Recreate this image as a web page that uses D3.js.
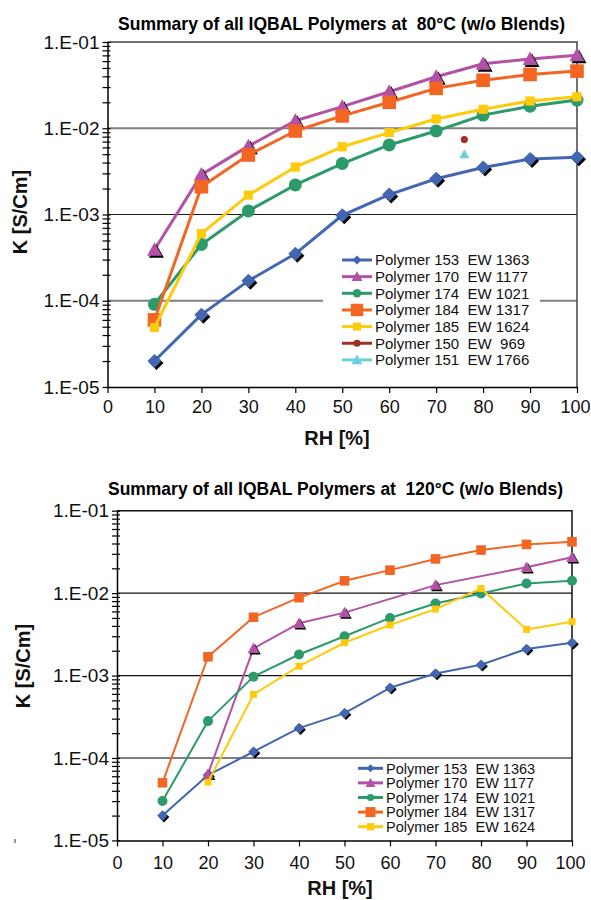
<!DOCTYPE html>
<html>
<head>
<meta charset="utf-8">
<script src="https://cdn.jsdelivr.net/npm/d3@7/dist/d3.min.js"></script>
<style>
body { margin: 0; background: #fff; }
svg { display: block; font-family: Arial, "Liberation Sans", sans-serif; }
</style>
</head>
<body>
<svg id="chart" width="591" height="900"></svg>
<script>
// x values (RH %) and axis labels
var rhValues = [10, 20, 30, 40, 50, 60, 70, 80, 90, 100];
var xTicks = [0, 10, 20, 30, 40, 50, 60, 70, 80, 90, 100];
var yDecadeLabels = ["1.E-05", "1.E-04", "1.E-03", "1.E-02", "1.E-01"];

var legendNames = [
    "Polymer 153  EW 1363",
    "Polymer 170  EW 1177",
    "Polymer 174  EW 1021",
    "Polymer 184  EW 1317",
    "Polymer 185  EW 1624",
    "Polymer 150  EW  969",
    "Polymer 151  EW 1766"
];

// 80 C conductivity, S/cm
var p153_80 = [2.0e-5, 6.9e-5, 1.7e-4, 3.5e-4, 9.8e-4, 1.7e-3, 2.6e-3, 3.5e-3, 4.4e-3, 4.6e-3];
var p170_80 = [3.9e-4, 2.9e-3, 6.2e-3, 1.22e-2, 1.78e-2, 2.65e-2, 3.95e-2, 5.6e-2, 6.35e-2, 7.0e-2];
var p174_80 = [9.1e-5, 4.5e-4, 1.1e-3, 2.2e-3, 3.9e-3, 6.4e-3, 9.3e-3, 1.42e-2, 1.8e-2, 2.12e-2];
var p184_80 = [6.0e-5, 2.1e-3, 4.9e-3, 9.3e-3, 1.39e-2, 2.0e-2, 2.9e-2, 3.6e-2, 4.2e-2, 4.6e-2];
var p185_80 = [4.9e-5, 6.0e-4, 1.68e-3, 3.55e-3, 6.1e-3, 8.9e-3, 1.28e-2, 1.66e-2, 2.07e-2, 2.32e-2];
var rh150_80 = [76];
var p150_80 = [7.4e-3];
var rh151_80 = [76];
var p151_80 = [5.0e-3];

// 120 C conductivity, S/cm (null = not measured)
var p153_120 = [2.0e-5, 6.2e-5, 1.19e-4, 2.3e-4, 3.5e-4, 7.1e-4, 1.06e-3, 1.35e-3, 2.1e-3, 2.5e-3];
var p170_120 = [null, 6.4e-5, 2.14e-3, 4.3e-3, 5.8e-3, null, 1.25e-2, null, 2.06e-2, 2.72e-2];
var p174_120 = [3.0e-5, 2.8e-4, 9.7e-4, 1.8e-3, 3.0e-3, 5.0e-3, 7.5e-3, 9.9e-3, 1.31e-2, 1.41e-2];
var p184_120 = [5.0e-5, 1.69e-3, 5.1e-3, 8.8e-3, 1.41e-2, 1.9e-2, 2.6e-2, 3.33e-2, 3.9e-2, 4.2e-2];
var p185_120 = [null, 5.1e-5, 5.9e-4, 1.3e-3, 2.5e-3, 4.1e-3, 6.4e-3, 1.14e-2, 3.63e-3, 4.5e-3];

var colBlue = "#4266b2";
var colPurple = "#b152a7";
var colGreen = "#2c9a6a";
var colOrange = "#f26522";
var colYellow = "#fdca0c";
var colRed = "#a0301f";
var colCyan = "#6fcfe0";

function markerPath(type, s)
{
    if (type == "diamond")
        return "M0," + (-s) + "L" + s + ",0L0," + s + "L" + (-s) + ",0Z";
    if (type == "square")
        return "M" + (-s) + "," + (-s) + "H" + s + "V" + s + "H" + (-s) + "Z";
    if (type == "triangle")
        return "M0," + (-s) + "L" + s + "," + (s * 0.8) + "L" + (-s) + "," + (s * 0.8) + "Z";
    // circle
    return "M" + s + ",0A" + s + "," + s + " 0 1,1 " + (-s) + ",0A" + s + "," + s + " 0 1,1 " + s + ",0Z";
}

function drawChart(svg, opt)
{
    var g = svg.append("g");
    var x = d3.scaleLinear().domain([0, 100]).range([opt.left, opt.right]);
    var y = d3.scaleLog().domain([1e-5, 1e-1]).range([opt.bottom, opt.top]);

    // horizontal grid lines at 1E-04, 1E-03, 1E-02
    var gridVals = [1e-4, 1e-3, 1e-2];
    g.selectAll(".grid").data(gridVals).join("line")
        .attr("x1", opt.left).attr("x2", opt.right)
        .attr("y1", function(d){ return y(d); })
        .attr("y2", function(d){ return y(d); })
        .attr("stroke", function(d, i){ return opt.gridColors[i]; })
        .attr("stroke-width", function(d, i){ return opt.gridWidths[i]; });

    // top and right frame
    g.append("path")
        .attr("d", "M" + opt.left + "," + y(1e-1) + "H" + x(100) + "V" + y(1e-5))
        .attr("fill", "none")
        .attr("stroke", opt.frameColor)
        .attr("stroke-width", 1.5);

    // y axis with log minor ticks
    var yAxis = d3.axisLeft(y)
        .tickValues(y.ticks())
        .tickSize(5).tickSizeOuter(0).tickPadding(3)
        .tickFormat(function(d){
            var l = Math.log10(d);
            if (Math.abs(l - Math.round(l)) < 1e-6) return yDecadeLabels[Math.round(l) + 5];
            return "";
        });
    var ya = g.append("g").attr("transform", "translate(" + opt.left + ",0)").call(yAxis);
    ya.selectAll(".tick line").attr("x1", 3).attr("stroke", "#000").attr("stroke-width", 1.2);
    ya.select(".domain").attr("stroke", "#000").attr("stroke-width", 1.5);
    ya.selectAll("text").attr("font-size", 19).attr("fill", "#111").attr("font-family", "Arial, 'Liberation Sans', sans-serif");

    // x axis
    var xAxis = d3.axisBottom(x).tickValues(xTicks).tickSize(6).tickSizeOuter(0).tickPadding(opt.xPad);
    var xa = g.append("g").attr("transform", "translate(0," + opt.bottom + ")").call(xAxis);
    xa.selectAll(".tick line").attr("stroke", "#000").attr("stroke-width", 1.2);
    xa.select(".domain").attr("stroke", "#000").attr("stroke-width", 1.5);
    xa.selectAll("text").attr("font-size", 18).attr("fill", "#111").attr("font-family", "Arial, 'Liberation Sans', sans-serif");
    // last label sits against the page edge
    xa.selectAll("text").filter(function(d){ return d == 100; }).attr("dx", -2);

    // series lines and markers
    var line = d3.line()
        .x(function(d){ return x(d[0]); })
        .y(function(d){ return y(d[1]); });

    opt.series.forEach(function(s){
        var pts = [];
        for (var i = 0; i < s.rh.length; i++)
        {
            if (s.values[i] != null) pts.push([s.rh[i], s.values[i]]);
        }
        if (pts.length > 1)
        {
            g.append("path").datum(pts)
                .attr("d", line)
                .attr("fill", "none")
                .attr("stroke", s.color)
                .attr("stroke-width", opt.lineWidth)
                .attr("stroke-linejoin", "round");
        }
        if (s.shadow)
        {
            g.selectAll(null).data(pts).join("path")
                .attr("transform", function(d){ return "translate(" + (x(d[0]) + opt.shadowOff) + "," + (y(d[1]) + opt.shadowOff) + ")"; })
                .attr("d", markerPath(s.type, s.size))
                .attr("fill", "#000");
        }
        g.selectAll(null).data(pts).join("path")
            .attr("transform", function(d){ return "translate(" + x(d[0]) + "," + y(d[1]) + ")"; })
            .attr("d", markerPath(s.type, s.size))
            .attr("fill", s.color);
    });

    // legend
    var lg = g.append("g");
    if (opt.legendBox)
    {
        lg.append("rect")
            .attr("x", opt.legendBox[0]).attr("y", opt.legendBox[1])
            .attr("width", opt.legendBox[2]).attr("height", opt.legendBox[3])
            .attr("fill", "#fff");
    }
    opt.series.forEach(function(s, i){
        var ly = opt.legendY + i * opt.legendStep;
        lg.append("line")
            .attr("x1", opt.legendX).attr("x2", opt.legendX + opt.legendLineLen)
            .attr("y1", ly).attr("y2", ly)
            .attr("stroke", s.color).attr("stroke-width", 3);
        lg.append("path")
            .attr("transform", "translate(" + (opt.legendX + opt.legendLineLen / 2) + "," + ly + ")")
            .attr("d", markerPath(s.type, s.legendSize))
            .attr("fill", s.color);
        lg.append("text")
            .attr("x", opt.legendX + opt.legendLineLen + 3)
            .attr("y", ly)
            .attr("dy", "0.36em")
            .attr("font-size", opt.legendFont)
            .attr("fill", "#111")
            .style("white-space", "pre")
            .text(s.name);
    });

    // titles
    g.append("text")
        .attr("x", opt.titleX).attr("y", opt.titleY)
        .attr("text-anchor", "middle")
        .attr("font-family", "'Liberation Sans Narrow', 'Arial Narrow', Arial, sans-serif")
        .attr("font-weight", "bold")
        .attr("font-size", 18.5)
        .attr("textLength", opt.titleLen)
        .attr("lengthAdjust", "spacingAndGlyphs")
        .style("white-space", "pre")
        .text(opt.title);

    g.append("text")
        .attr("x", opt.xLabelX).attr("y", opt.xLabelY)
        .attr("text-anchor", "middle")
        .attr("font-weight", "bold")
        .attr("font-size", 20)
        .attr("fill", "#111")
        .text("RH [%]");

    g.append("text")
        .attr("transform", "translate(" + opt.yLabelX + "," + opt.yLabelY + ") rotate(-90)")
        .attr("text-anchor", "middle")
        .attr("font-weight", "bold")
        .attr("font-size", 20)
        .attr("fill", "#111")
        .text("K [S/Cm]");
}

var svg = d3.select("#chart");

var series80 = [
    {name: legendNames[0], color: colBlue, type: "diamond", size: 7, legendSize: 4.5, shadow: true, rh: rhValues, values: p153_80},
    {name: legendNames[1], color: colPurple, type: "triangle", size: 7.5, legendSize: 5.5, shadow: true, rh: rhValues, values: p170_80},
    {name: legendNames[2], color: colGreen, type: "circle", size: 6.5, legendSize: 4.2, shadow: false, rh: rhValues, values: p174_80},
    {name: legendNames[3], color: colOrange, type: "square", size: 6.8, legendSize: 6.2, shadow: false, rh: rhValues, values: p184_80},
    {name: legendNames[4], color: colYellow, type: "square", size: 4.6, legendSize: 4, shadow: false, rh: rhValues, values: p185_80},
    {name: legendNames[5], color: colRed, type: "circle", size: 3.6, legendSize: 3.6, shadow: false, rh: rh150_80, values: p150_80},
    {name: legendNames[6], color: colCyan, type: "triangle", size: 5, legendSize: 5.5, shadow: false, rh: rh151_80, values: p151_80}
];

var series120 = [
    {name: legendNames[0], color: colBlue, type: "diamond", size: 5.3, legendSize: 4, shadow: true, rh: rhValues, values: p153_120},
    {name: legendNames[1], color: colPurple, type: "triangle", size: 5.8, legendSize: 5, shadow: true, rh: rhValues, values: p170_120},
    {name: legendNames[2], color: colGreen, type: "circle", size: 5, legendSize: 3.6, shadow: false, rh: rhValues, values: p174_120},
    {name: legendNames[3], color: colOrange, type: "square", size: 4.8, legendSize: 5, shadow: false, rh: rhValues, values: p184_120},
    {name: legendNames[4], color: colYellow, type: "square", size: 3.5, legendSize: 3.6, shadow: false, rh: rhValues, values: p185_120}
];

drawChart(svg, {
    left: 107.5, right: 577, top: 42, bottom: 387,
    gridColors: ["#808080", "#1a1a1a", "#808080"], gridWidths: [2, 1.2, 2],
    frameColor: "#444", xPad: 7, lineWidth: 3, shadowOff: 2,
    series: series80,
    legendBox: [323, 250, 217, 118], legendX: 342, legendY: 260, legendStep: 16.65, legendLineLen: 30, legendFont: 15,
    title: "Summary of all IQBAL Polymers at  80\u00B0C (w/o Blends)", titleX: 341.5, titleY: 30, titleLen: 447,
    xLabelX: 337, xLabelY: 445, yLabelX: 27, yLabelY: 212
});

drawChart(svg, {
    left: 117, right: 572, top: 510.7, bottom: 840.4,
    gridColors: ["#555", "#111", "#111"], gridWidths: [1.6, 1.2, 1.2],
    frameColor: "#111", xPad: 9.5, lineWidth: 2, shadowOff: 1.5,
    series: series120,
    legendBox: null, legendX: 358, legendY: 768.3, legendStep: 14.6, legendLineLen: 25, legendFont: 14.5,
    title: "Summary of all IQBAL Polymers at  120\u00B0C (w/o Blends)", titleX: 335.5, titleY: 495, titleLen: 455,
    xLabelX: 340, xLabelY: 895, yLabelX: 30, yLabelY: 666
});

// stray mark left of the lower chart
svg.append("line")
    .attr("x1", 15).attr("x2", 15).attr("y1", 839).attr("y2", 843)
    .attr("stroke", "#333").attr("stroke-width", 1);
</script>
</body>
</html>
